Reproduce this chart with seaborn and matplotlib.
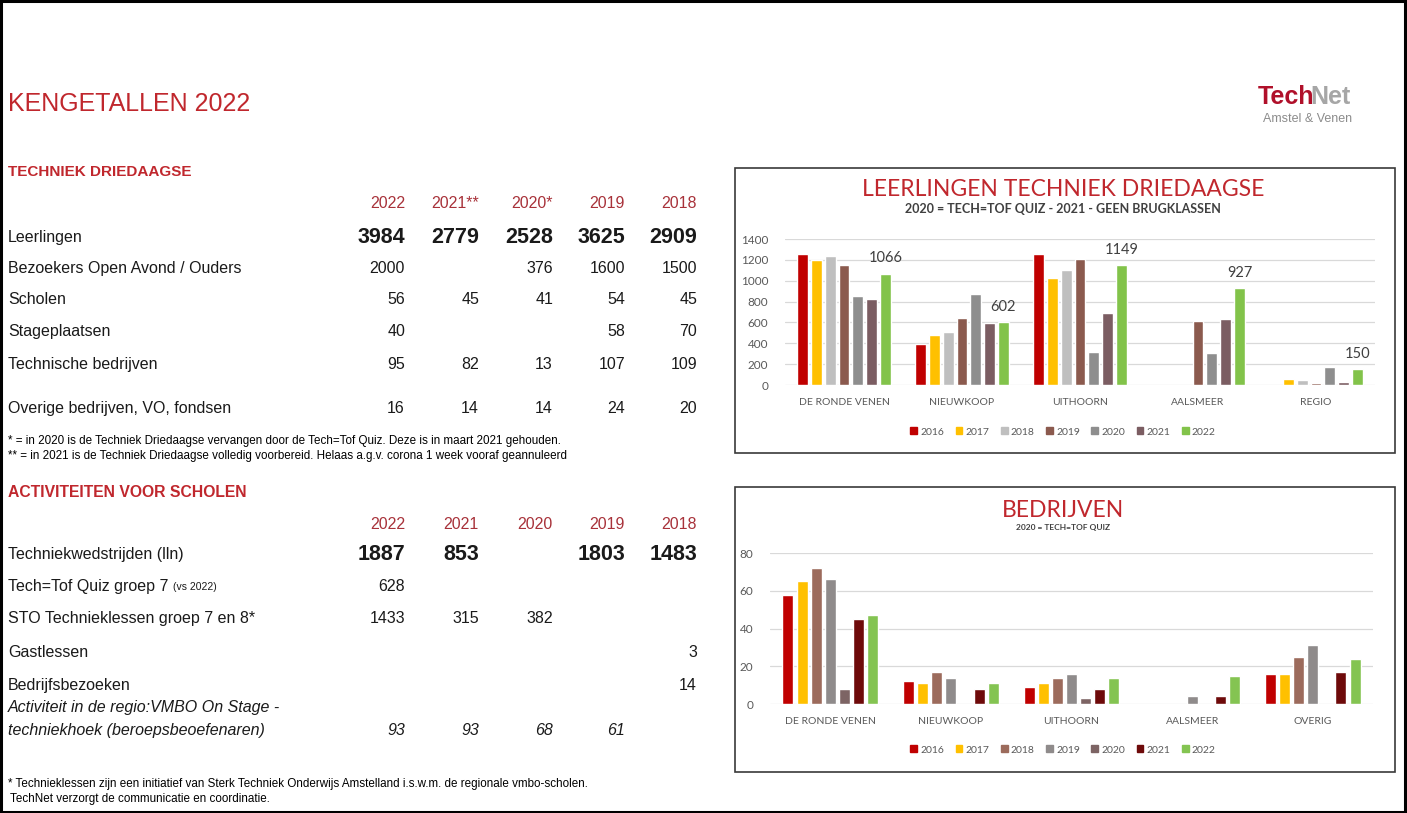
import numpy as np
import pandas as pd
import matplotlib
matplotlib.use("Agg")
import matplotlib.pyplot as plt
from matplotlib.patches import Rectangle, Patch
import seaborn as sns

# ── Data ────────────────────────────────────────────────────────────────
JAREN = ["2016", "2017", "2018", "2019", "2020", "2021", "2022"]

LL_REGIO = ["DE RONDE VENEN", "NIEUWKOOP", "UITHOORN", "AALSMEER", "REGIO"]
ll_2016 = [1255, 395, 1255, 0, 0]
ll_2017 = [1200, 480, 1030, 0, 60]
ll_2018 = [1235, 510, 1105, 0, 45]
ll_2019 = [1150, 645, 1210, 615, 15]
ll_2020 = [850, 870, 320, 305, 175]
ll_2021 = [820, 590, 690, 630, 30]
ll_2022 = [1066, 602, 1149, 927, 150]

BD_REGIO = ["DE RONDE VENEN", "NIEUWKOOP", "UITHOORN", "AALSMEER", "OVERIG"]
bd_2016 = [58, 12, 9, 0, 16]
bd_2017 = [65, 11, 11, 0, 16]
bd_2018 = [72, 17, 14, 0, 25]
bd_2019 = [66, 14, 16, 4, 31]
bd_2020 = [8, 0, 3, 0, 0]
bd_2021 = [45, 8, 8, 4, 17]
bd_2022 = [47, 11, 14, 15, 24]

LL_KLEUREN = ["#C00000", "#FFC000", "#BFBFBF", "#8B5A4E", "#8E8E8E", "#7B5D62", "#82C34A"]
BD_KLEUREN = ["#C00000", "#FFC000", "#9C6B5C", "#8F8B8B", "#7D6464", "#6E0A0A", "#84C452"]

# Tabel techniek driedaagse
td_kolommen = ["2022", "2021**", "2020*", "2019", "2018"]
td_rijen = ["Leerlingen", "Bezoekers Open Avond / Ouders", "Scholen",
            "Stageplaatsen", "Technische bedrijven", "Overige bedrijven, VO, fondsen"]
td_leerlingen = [3984, 2779, 2528, 3625, 2909]
td_bezoekers = [2000, None, 376, 1600, 1500]
td_scholen = [56, 45, 41, 54, 45]
td_stage = [40, None, None, 58, 70]
td_bedrijven = [95, 82, 13, 107, 109]
td_overig = [16, 14, 14, 24, 20]

# Tabel activiteiten voor scholen
act_kolommen = ["2022", "2021", "2020", "2019", "2018"]
act_wedstrijden = [1887, 853, None, 1803, 1483]
act_quiz = [628, None, None, None, None]
act_sto = [1433, 315, 382, None, None]
act_gastlessen = [None, None, None, None, 3]
act_bezoeken = [None, None, None, None, 14]
act_vmbo = [93, 93, 68, 61, None]


def long_df(regio, reeksen):
    rows = []
    for jaar, vals in zip(JAREN, reeksen):
        for r, v in zip(regio, vals):
            rows.append({"regio": r, "jaar": jaar, "waarde": v})
    return pd.DataFrame(rows)


ll_df = long_df(LL_REGIO, [ll_2016, ll_2017, ll_2018, ll_2019, ll_2020, ll_2021, ll_2022])
bd_df = long_df(BD_REGIO, [bd_2016, bd_2017, bd_2018, bd_2019, bd_2020, bd_2021, bd_2022])

# ── Figure ──────────────────────────────────────────────────────────────
sns.set_theme(style="white")
plt.rcParams["font.family"] = ["Liberation Sans", "DejaVu Sans"]

W, H = 1407, 813
fig = plt.figure(figsize=(W / 100, H / 100), dpi=100)
bg = fig.add_axes([0, 0, 1, 1], zorder=0)
bg.set_xlim(0, W)
bg.set_ylim(H, 0)
bg.set_axis_off()

RED = "#C0272D"
HDR = "#A8323A"
TXT = "#1A1A1A"

bg.add_patch(Rectangle((1, 1), W - 3, H - 2, fill=False, ec="black", lw=2.2))

bg.text(8, 104, "KENGETALLEN 2022", color=RED, fontsize=18, va="center")

# logo
n = bg.text(1351, 97, "Net", color="#A6A6A6", fontsize=18, fontweight="bold",
            va="center", ha="right")
bg.annotate("Tech", xy=(0, 0), xycoords=n, xytext=(3, 0), textcoords="offset pixels",
            color="#B0102A", fontsize=18, fontweight="bold", va="bottom", ha="right")
bg.text(1352, 119, "Amstel & Venen", color="#8C8C8C", fontsize=9, va="center", ha="right")

COL_X = [405, 479, 553, 625, 697]
FS = 11.5
FS_BIG = 15.5
FS_NOTE = 8.4


def fmt(v):
    return "" if v is None else str(v)


# section 1
bg.text(8, 172, "TECHNIEK DRIEDAAGSE", color=RED, fontsize=11, fontweight="bold", va="center")
for x, k in zip(COL_X, td_kolommen):
    bg.text(x, 203, k, color=HDR, fontsize=FS, ha="right", va="center")
td_y = [237, 268, 299, 331, 364, 408]
td_vals = [td_leerlingen, td_bezoekers, td_scholen, td_stage, td_bedrijven, td_overig]
for y, naam, vals in zip(td_y, td_rijen, td_vals):
    bg.text(8, y, naam, color=TXT, fontsize=FS, va="center")
    groot = naam == "Leerlingen"
    for x, v in zip(COL_X, vals):
        bg.text(x, y, fmt(v), color=TXT, ha="right", va="center",
                fontsize=FS_BIG if groot else FS, fontweight="bold" if groot else "normal")

bg.text(8, 441, "* = in 2020 is de Techniek Driedaagse vervangen door de Tech=Tof Quiz. "
        "Deze is in maart 2021 gehouden.", fontsize=FS_NOTE, color="black", va="center")
bg.text(8, 456, "** = in 2021 is de Techniek Driedaagse volledig voorbereid. "
        "Helaas a.g.v. corona 1 week vooraf geannuleerd", fontsize=FS_NOTE, color="black",
        va="center")

# section 2
bg.text(8, 492, "ACTIVITEITEN VOOR SCHOLEN", color=RED, fontsize=11.3, fontweight="bold",
        va="center")
for x, k in zip(COL_X, act_kolommen):
    bg.text(x, 524, k, color=HDR, fontsize=FS, ha="right", va="center")

bg.text(8, 554, "Techniekwedstrijden (lln)", color=TXT, fontsize=FS, va="center")
for x, v in zip(COL_X, act_wedstrijden):
    bg.text(x, 554, fmt(v), color=TXT, ha="right", va="center", fontsize=FS_BIG,
            fontweight="bold")

q = bg.text(8, 586, "Tech=Tof Quiz groep 7 ", color=TXT, fontsize=FS, va="center")
bg.annotate("(vs 2022)", xy=(1, 0.12), xycoords=q, fontsize=7.5, color=TXT, va="bottom")

act_rows = [(618, "STO Technieklessen groep 7 en 8*", act_sto),
            (652, "Gastlessen", act_gastlessen),
            (685, "Bedrijfsbezoeken", act_bezoeken)]
for x, v in zip(COL_X, act_quiz):
    bg.text(x, 586, fmt(v), color=TXT, ha="right", va="center", fontsize=FS)
for y, naam, vals in act_rows:
    bg.text(8, y, naam, color=TXT, fontsize=FS, va="center")
    for x, v in zip(COL_X, vals):
        bg.text(x, y, fmt(v), color=TXT, ha="right", va="center", fontsize=FS)

bg.text(8, 707, "Activiteit in de regio:VMBO On Stage -", color=TXT, fontsize=FS,
        style="italic", va="center")
bg.text(8, 730, "techniekhoek (beroepsbeoefenaren)", color=TXT, fontsize=FS,
        style="italic", va="center")
for x, v in zip(COL_X, act_vmbo):
    bg.text(x, 730, fmt(v), color=TXT, ha="right", va="center", fontsize=FS, style="italic")

bg.text(8, 784, "* Technieklessen zijn een initiatief van Sterk Techniek Onderwijs Amstelland "
        "i.s.w.m. de regionale vmbo-scholen.", fontsize=FS_NOTE, color="black", va="center")
bg.text(10, 799, "TechNet verzorgt de communicatie en coordinatie.", fontsize=FS_NOTE,
        color="black", va="center")

# chart boxes
bg.add_patch(Rectangle((735, 168), 660, 285, fill=False, ec="#3A3A3A", lw=1.2))
bg.add_patch(Rectangle((735, 487), 660, 285, fill=False, ec="#3A3A3A", lw=1.2))

CHART_FONT = ["Lato", "DejaVu Sans"]
GRIJS = "#595959"


def bar_chart(rect, df, regio, kleuren, ymax, ystep, titel, sub, title_y, sub_y,
              sub_size, legend_y, labels_2022):
    ax = fig.add_axes(rect, zorder=2)
    ax.set_facecolor("none")
    sns.barplot(data=df, x="regio", y="waarde", hue="jaar", order=regio,
                hue_order=JAREN, palette=kleuren, width=0.82, gap=0.22,
                legend=False, ax=ax, saturation=1)
    ax.set_xlim(-0.5, len(regio) - 0.5)
    ax.set_ylim(0, ymax)
    ax.set_yticks(np.arange(0, ymax + 1, ystep))
    ax.yaxis.grid(True, color="#D9D9D9", lw=0.9)
    ax.set_axisbelow(True)
    for s in ax.spines.values():
        s.set_visible(False)
    ax.set_xlabel("")
    ax.set_ylabel("")
    ax.tick_params(length=0)
    for lab in ax.get_yticklabels():
        lab.set_fontfamily(CHART_FONT)
        lab.set_fontsize(8.5)
        lab.set_color(GRIJS)
    for lab in ax.get_xticklabels():
        lab.set_fontfamily(CHART_FONT)
        lab.set_fontsize(7.5)
        lab.set_color(GRIJS)
    ax.tick_params(axis="x", pad=9)
    ax.tick_params(axis="y", pad=12)
    if labels_2022:
        ax.bar_label(ax.containers[-1], fmt="%d", padding=6, fontsize=10.5,
                     color="#404040", fontfamily=CHART_FONT)
    handles = [Patch(color=c) for c in kleuren]
    ax.legend(handles, JAREN, loc="center", bbox_to_anchor=(1063 / W, 1 - legend_y / H),
              bbox_transform=fig.transFigure, ncol=7, frameon=False,
              prop={"family": CHART_FONT, "size": 7.5}, labelcolor=GRIJS,
              handlelength=0.65, handleheight=0.65, handletextpad=0.3, columnspacing=1.1)
    bg.text(1063, title_y, titel, color=RED, fontsize=16.5, ha="center", va="center",
            fontfamily=CHART_FONT)
    bg.text(1063, sub_y, sub, color="#404040", fontsize=sub_size, ha="center", va="center",
            fontfamily=CHART_FONT, fontweight="bold")
    return ax


bar_chart([785 / W, 1 - 385 / H, 590 / W, 146 / H], ll_df, LL_REGIO, LL_KLEUREN,
          1400, 200, "LEERLINGEN TECHNIEK DRIEDAAGSE",
          "2020 = TECH=TOF QUIZ - 2021 - GEEN BRUGKLASSEN", 190, 209, 9, 432, True)
bar_chart([770 / W, 1 - 704 / H, 603 / W, 151 / H], bd_df, BD_REGIO, BD_KLEUREN,
          80, 20, "BEDRIJVEN", "2020 = TECH=TOF QUIZ", 510, 527, 6, 750, False)

fig.savefig("out.png", dpi=100)
